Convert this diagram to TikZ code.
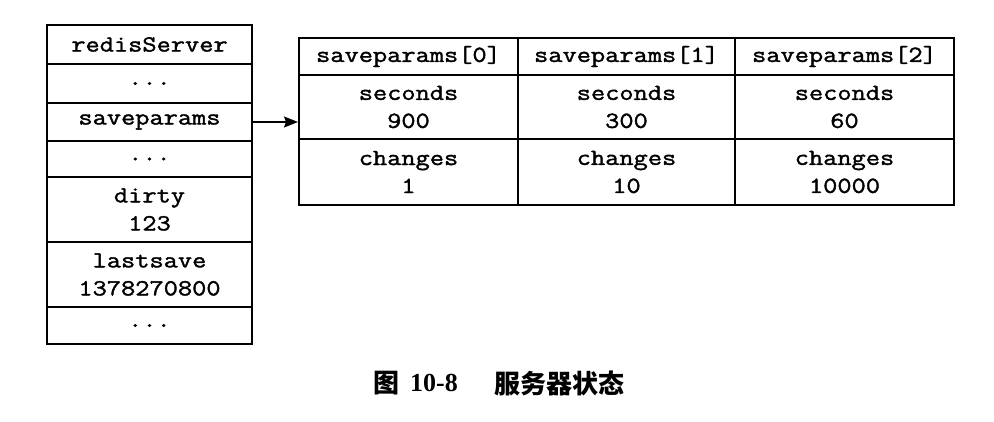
\documentclass[tikz,border=0pt]{standalone}
\usepackage{fontspec}
\setmainfont{Liberation Serif}
\setmonofont{Latin Modern Mono}[FakeStretch=1.2, FakeBold=1.6]
\newfontfamily\cjk{Noto Sans CJK SC}
\usetikzlibrary{arrows.meta}
\tikzset{
  cell/.style={draw, line width=2pt, inner sep=0pt, align=center,
    font=\ttfamily\fontsize{23}{28}\selectfont},
  ptr/.style={line width=1.6pt, -{Stealth[length=14pt,width=11pt,inset=2pt]}},
  caption/.style={inner sep=0pt, font=\bfseries\fontsize{26}{28}\selectfont}
}
\begin{document}
\begin{tikzpicture}[x=1pt, y=-1pt]
\useasboundingbox (0,0) rectangle (994,422);

% server structure column
\node[cell, minimum width=205pt, minimum height=39pt] (r1) at (149.5,44.5) {redisServer};
\node[cell, minimum width=205pt, minimum height=39pt] (r2) at (149.5,83.5) {...};
\node[cell, minimum width=205pt, minimum height=38pt] (r3) at (149.5,122) {saveparams};
\node[cell, minimum width=205pt, minimum height=36pt] (r4) at (149.5,159) {...};
\node[cell, minimum width=205pt, minimum height=65pt] (r5) at (149.5,209.5) {dirty\\123};
\node[cell, minimum width=205pt, minimum height=65pt] (r6) at (149.5,274.5) {lastsave\\1378270800};
\node[cell, minimum width=205pt, minimum height=37pt] (r7) at (149.5,325.5) {...};

% saveparams array
\node[cell, minimum width=219pt, minimum height=37pt] (h0) at (408.5,56.5) {saveparams[0]};
\node[cell, minimum width=217pt, minimum height=37pt] (h1) at (626.5,56.5) {saveparams[1]};
\node[cell, minimum width=219pt, minimum height=37pt] (h2) at (844.5,56.5) {saveparams[2]};
\node[cell, minimum width=219pt, minimum height=64pt] (s0) at (408.5,107) {seconds\\900};
\node[cell, minimum width=217pt, minimum height=64pt] (s1) at (626.5,107) {seconds\\300};
\node[cell, minimum width=219pt, minimum height=64pt] (s2) at (844.5,107) {seconds\\60};
\node[cell, minimum width=219pt, minimum height=66pt] (c0) at (408.5,172) {changes\\1};
\node[cell, minimum width=217pt, minimum height=66pt] (c1) at (626.5,172) {changes\\10};
\node[cell, minimum width=219pt, minimum height=66pt] (c2) at (844.5,172) {changes\\10000};

\draw[ptr] (r3.east) -- (r3.east -| s0.west);

% figure caption
\node[caption] (cap1) at (386,383) {\cjk 图};
\node[caption] (cap2) at (434,383) {10-8};
\node[caption] (cap3) at (559.5,383) {\cjk 服务器状态};
\end{tikzpicture}
\end{document}
